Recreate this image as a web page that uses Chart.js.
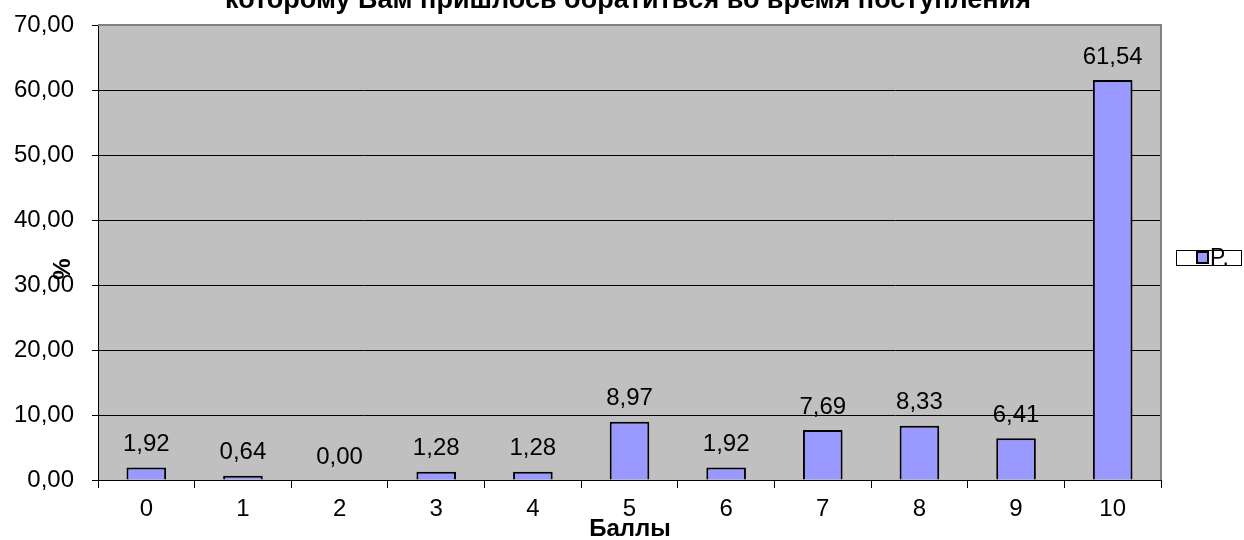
<!DOCTYPE html>
<html lang="ru">
<head>
  <meta charset="UTF-8">
  <title>Баллы</title>
  <script src="https://cdn.jsdelivr.net/npm/chart.js"></script>
  <style>
    body { margin: 0; background: #fff; }
    #wrap { width: 1244px; height: 540px; }
  </style>
</head>
<body>
  <div id="wrap"><canvas id="chart" width="1244" height="540"></canvas></div>

  <script>
    const titleText = 'которому Вам пришлось обратиться во время поступления';
    const categories = ['0', '1', '2', '3', '4', '5', '6', '7', '8', '9', '10'];
    const values = [1.92, 0.64, 0.00, 1.28, 1.28, 8.97, 1.92, 7.69, 8.33, 6.41, 61.54];
    const seriesName = 'P.';
    const yTitle = '%';
    const xTitle = 'Баллы';

    const FONT = 'Arial, "Liberation Sans", sans-serif';
    const comma = v => v.toFixed(2).replace('.', ',');

    // plot background, frame, labels, titles and the boxed legend
    const excelLook = {
      id: 'excelLook',
      beforeDraw(chart) {
        const { ctx, chartArea: a } = chart;
        ctx.save();
        ctx.fillStyle = '#c0c0c0';
        ctx.fillRect(a.left, a.top, a.right - a.left, a.bottom - a.top);
        ctx.restore();
      },
      afterDatasetsDraw(chart) {
        const { ctx, chartArea: a } = chart;
        ctx.save();
        ctx.strokeStyle = '#808080';
        ctx.lineWidth = 2;
        ctx.beginPath();
        ctx.moveTo(a.left, a.top);
        ctx.lineTo(a.right, a.top);
        ctx.lineTo(a.right, a.bottom);
        ctx.stroke();

        ctx.fillStyle = '#000';
        ctx.font = '24px ' + FONT;
        ctx.textAlign = 'center';
        ctx.textBaseline = 'middle';
        chart.getDatasetMeta(0).data.forEach((bar, i) => {
          ctx.fillText(comma(values[i]), bar.x, bar.y - 23);
        });

        ctx.font = 'bold 27px ' + FONT;
        ctx.textBaseline = 'alphabetic';
        ctx.fillText(titleText, 628, 8);
        ctx.font = 'bold 24px ' + FONT;
        ctx.fillText(xTitle, 630, 536);

        ctx.save();
        ctx.translate(70, 269);
        ctx.rotate(-Math.PI / 2);
        ctx.textBaseline = 'alphabetic';
        ctx.fillText(yTitle, 0, 0);
        ctx.restore();

        // legend box
        ctx.fillStyle = '#fff';
        ctx.fillRect(1176, 250, 66, 16);
        ctx.strokeStyle = '#000';
        ctx.lineWidth = 1;
        ctx.strokeRect(1176.5, 250.5, 65, 15);
        ctx.fillStyle = '#9999ff';
        ctx.fillRect(1197, 252, 11, 11);
        ctx.lineWidth = 2;
        ctx.strokeRect(1197, 252, 11, 11);
        ctx.fillStyle = '#000';
        ctx.font = '23px ' + FONT;
        ctx.textAlign = 'left';
        ctx.textBaseline = 'alphabetic';
        ctx.fillText(seriesName, 1210, 265);
        ctx.restore();
      }
    };

    new Chart(document.getElementById('chart'), {
      type: 'bar',
      data: {
        labels: categories,
        datasets: [{
          label: seriesName,
          data: values,
          backgroundColor: '#9999ff',
          borderColor: '#000',
          borderWidth: 2,
          categoryPercentage: 1,
          barPercentage: 0.41
        }]
      },
      options: {
        responsive: false,
        animation: false,
        layout: { padding: { top: 25, right: 83, left: 0, bottom: 0 } },
        plugins: {
          legend: { display: false },
          tooltip: { enabled: false }
        },
        scales: {
          x: {
            offset: true,
            grid: {
              offset: true,
              drawOnChartArea: false,
              color: '#000',
              tickLength: 8
            },
            border: { color: '#000', width: 1 },
            ticks: {
              color: '#000',
              font: { size: 24, family: FONT },
              padding: 7,
              maxRotation: 0
            },
            afterFit(scale) { scale.height = 60; }
          },
          y: {
            min: 0,
            max: 70,
            ticks: {
              stepSize: 10,
              color: '#000',
              font: { size: 24, family: FONT },
              padding: 18,
              callback: v => comma(v)
            },
            grid: { color: '#000', tickLength: 6 },
            border: { color: '#000', width: 1 },
            afterFit(scale) {
              scale.width = 98;
              scale.paddingTop = 0;
              scale.paddingBottom = 0;
            }
          }
        }
      },
      plugins: [excelLook]
    });
  </script>
</body>
</html>
